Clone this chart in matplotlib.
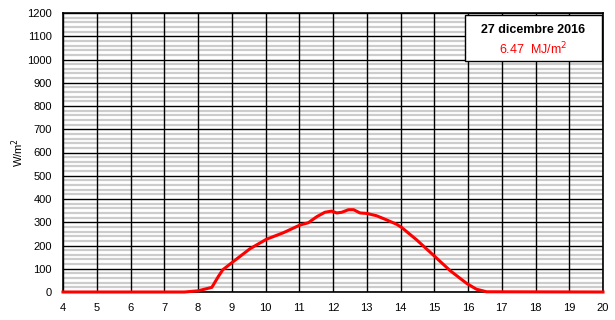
import matplotlib as mpl
import matplotlib.pyplot as plt
import numpy as np

plt.rcParams['font.family'] = ['Liberation Sans', 'DejaVu Sans']

# solar irradiance (hour, W/m2)
hours = [4.0, 7.6, 8.0, 8.41, 8.6, 8.73, 9.02, 9.54, 10.03, 10.53, 11.02, 11.27,
         11.52, 11.76, 11.96, 12.11, 12.26, 12.46, 12.61, 12.80, 13.0, 13.29,
         13.59, 13.89, 14.03, 14.48, 14.97, 15.47, 15.96, 16.25, 16.55, 20.0]
irradiance = [0, 0, 5, 20, 66, 95, 128, 186, 227, 255, 288, 298,
              324, 343, 348, 340, 343, 354, 354, 340, 338, 328,
              310, 291, 278, 224, 159, 92, 37, 12, 1, 0]

title_text = "27 dicembre 2016"
energy_text = "6.47  MJ/m$^2$"
x_ticks = list(range(4, 21))
y_ticks = list(range(0, 1201, 100))
y_minor = list(range(0, 1201, 20))

fig = plt.figure(figsize=(6.15, 3.2), dpi=100)
ax = fig.add_axes([63 / 615, 28 / 320, 540 / 615, 279 / 320])

ax.set_xlim(4, 20)
ax.set_ylim(0, 1200)
ax.set_xticks(x_ticks)
ax.set_yticks(y_ticks)

# grey minor lines under black major lines
for v in y_minor:
    if v % 100:
        ax.axhline(v, color='#cccccc', linewidth=1.6, zorder=1)
for v in y_ticks:
    ax.axhline(v, color='black', linewidth=1.0, zorder=2)
for v in x_ticks:
    ax.axvline(v, color='black', linewidth=1.0, zorder=2)

ax.tick_params(which='both', length=0, labelsize=8, pad=8)
ax.tick_params(axis='x', pad=8)
for s in ax.spines.values():
    s.set_linewidth(1.2)

ax.plot(hours, irradiance, color='#ff0000', linewidth=2.2, clip_on=False, zorder=5)

ax.set_ylabel("W/m$^2$", fontsize=8)
ax.yaxis.set_label_coords(-0.068, 0.5)

fig.patches.append(mpl.patches.Rectangle((465 / 615, 1 - 61 / 320), 137 / 615, 46 / 320,
                                         transform=fig.transFigure, facecolor='white',
                                         edgecolor='black', linewidth=1.0, zorder=10))
fig.text(533 / 615, 1 - 30 / 320, title_text, ha='center', va='center',
         fontsize=9, fontweight='bold', zorder=11)
fig.text(533 / 615, 1 - 49 / 320, energy_text, ha='center', va='center',
         fontsize=9, color='#ff0000', zorder=11)

fig.savefig('out.png', dpi=100)
